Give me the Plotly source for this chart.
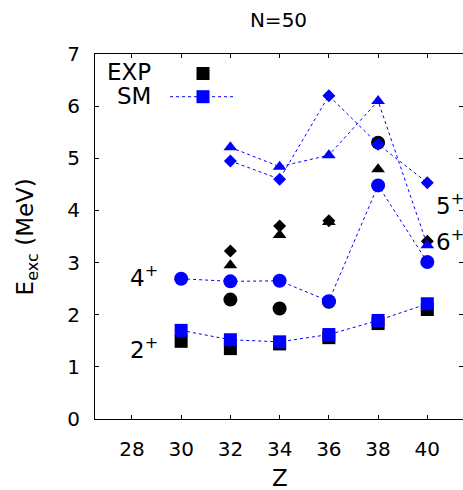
import plotly.graph_objects as go

# ---------------- data ----------------
Z = [30, 32, 34, 36, 38, 40]

# experimental levels (MeV)
exp_2p = [1.49, 1.35, 1.44, 1.56, 1.83, 2.10]
exp_4p = [None, 2.29, 2.12, 2.25, 5.30, None]
exp_tri = [None, 2.95, 3.53, 3.78, 4.79, None]
exp_dia = [None, 3.22, 3.70, 3.80, None, 3.41]

# shell-model levels (MeV)
sm_2p = [1.70, 1.52, 1.48, 1.62, 1.89, 2.21]
sm_4p = [2.69, 2.64, 2.65, 2.26, 4.48, 3.01]
sm_tri = [None, 5.21, 4.84, 5.06, 6.10, 3.33]
sm_dia = [None, 4.95, 4.60, 6.20, 5.27, 4.53]

x_ticks = [28, 30, 32, 34, 36, 38, 40]
y_ticks = [0, 1, 2, 3, 4, 5, 6, 7]

FONT = "DejaVu Sans"
BLUE = "#0000ff"
BLACK = "#000000"

fig = go.Figure()

def add_exp(y, sym, size):
    fig.add_trace(go.Scatter(x=Z, y=y, mode="markers",
                             marker=dict(symbol=sym, size=size, color=BLACK,
                                         line=dict(width=0)),
                             showlegend=False))

def add_sm(y, sym, size):
    fig.add_trace(go.Scatter(x=Z, y=y, mode="lines+markers", connectgaps=False,
                             line=dict(color=BLUE, width=1, dash="dot"),
                             marker=dict(symbol=sym, size=size, color=BLUE,
                                         line=dict(width=0)),
                             showlegend=False))

add_exp(exp_2p, "square", 13)
add_exp(exp_4p, "circle", 14)
add_exp(exp_tri, "triangle-up", 12)
add_exp(exp_dia, "diamond", 10)

add_sm(sm_2p, "square", 13)
add_sm(sm_4p, "circle", 14)
add_sm(sm_tri, "triangle-up", 12)
add_sm(sm_dia, "diamond", 10)

# legend samples on an overlay axis (0..1 box coords)
fig.add_trace(go.Scatter(x=[0.2935], y=[0.9466], mode="markers", xaxis="x2", yaxis="y2",
                         marker=dict(symbol="square", size=13, color=BLACK), showlegend=False))
fig.add_trace(go.Scatter(x=[0.204, 0.2935, 0.375], y=[0.883, 0.883, 0.883], mode="lines", xaxis="x2", yaxis="y2",
                         line=dict(color=BLUE, width=1, dash="dot"), showlegend=False))
fig.add_trace(go.Scatter(x=[0.2935], y=[0.883], mode="markers", xaxis="x2", yaxis="y2",
                         marker=dict(symbol="square", size=13, color=BLUE), showlegend=False))

axis_common = dict(showgrid=False, zeroline=False, showline=True, linecolor=BLACK, linewidth=1,
                   mirror="ticks", ticks="inside", ticklen=4, tickwidth=1, tickcolor=BLACK,
                   automargin=False,
                   tickfont=dict(family=FONT, size=20, color=BLACK))

fig.update_layout(
    width=463, height=490,
    margin=dict(l=95, r=0, t=54, b=71, autoexpand=False),
    paper_bgcolor="white", plot_bgcolor="white",
    showlegend=False,
    title=dict(text="N=50", x=278.5 / 463, xanchor="center", y=1 - 20 / 490, yanchor="middle",
               font=dict(family=FONT, size=20, color=BLACK)),
    xaxis=dict(range=[26.5, 41.45], tickvals=x_ticks, ticktext=[str(v) for v in x_ticks],
               ticklabelstandoff=12, **axis_common),
    yaxis=dict(range=[0, 7], tickvals=y_ticks, ticktext=[str(v) for v in y_ticks],
               ticklabelstandoff=10, **axis_common),
    xaxis2=dict(overlaying="x", range=[0, 1], visible=False),
    yaxis2=dict(overlaying="y", range=[0, 1], visible=False),
)

ann_font = dict(family=FONT, size=23, color=BLACK)
annotations = [
    dict(text="E<sub>exc</sub> (MeV)", x=-0.185, y=0.5, xref="paper", yref="paper",
         textangle=-90, showarrow=False, xanchor="center", yanchor="middle", font=ann_font),
    dict(text="Z", x=0.5027, y=-0.162, xref="paper", yref="paper", showarrow=False,
         xanchor="center", yanchor="middle", font=ann_font),
    dict(text="EXP", x=0.1576, y=0.9507, xref="paper", yref="paper", showarrow=False,
         xanchor="right", yanchor="middle", font=dict(family=FONT, size=23, color=BLACK)),
    dict(text="SM", x=0.1576, y=0.8836, xref="paper", yref="paper", showarrow=False,
         xanchor="right", yanchor="middle", font=dict(family=FONT, size=23, color=BLACK)),
    dict(text="4<sup>+</sup>", x=28.49, y=2.75, xref="x", yref="y", showarrow=False,
         xanchor="center", yanchor="middle", font=ann_font),
    dict(text="2<sup>+</sup>", x=28.49, y=1.37, xref="x", yref="y", showarrow=False,
         xanchor="center", yanchor="middle", font=ann_font),
    dict(text="5<sup>+</sup>", x=40.93, y=4.13, xref="x", yref="y", showarrow=False,
         xanchor="center", yanchor="middle", font=ann_font),
    dict(text="6<sup>+</sup>", x=40.93, y=3.44, xref="x", yref="y", showarrow=False,
         xanchor="center", yanchor="middle", font=ann_font),
]
fig.update_layout(annotations=annotations)

fig.write_html("out.html", config={"displayModeBar": False})

# remove the browser's default page margin so the figure sits at (0,0)
with open("out.html", "r", encoding="utf-8") as f:
    html = f.read()
html = html.replace("<body>", '<body style="margin:0;padding:0;overflow:hidden">', 1)
with open("out.html", "w", encoding="utf-8") as f:
    f.write(html)
